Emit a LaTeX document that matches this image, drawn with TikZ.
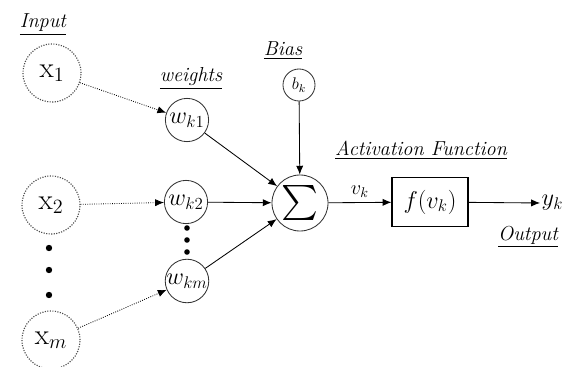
\documentclass[tikz,border=0pt]{standalone}
\usepackage{exscale}
\usetikzlibrary{arrows.meta}

\tikzset{
    inputnode/.style={circle, draw=black!70, densely dotted, thick, minimum size=1.45cm, inner sep=0pt, font=\huge},
    weightnode/.style={circle, draw=black!80, semithick, minimum size=1.08cm, inner sep=0pt, font=\LARGE},
    labeltext/.style={font=\Large\itshape},
    dotarrow/.style={densely dotted, semithick, -{Latex[length=2.2mm,width=1.8mm]}},
    solidarrow/.style={semithick, -{Latex[length=2.2mm,width=1.8mm]}},
    bigdot/.style={circle, fill=black, inner sep=0pt, minimum size=1.6mm}
}

\begin{document}
\begin{tikzpicture}[x=0.025cm, y=-0.025cm]
    \useasboundingbox (0,0) rectangle (565,367);

    % Define the input nodes
    \node[inputnode] (X1) at (52,73) {$\mathrm{x}_1$};
    \node[inputnode] (X2) at (51,205) {$\mathrm{x}_2$};
    \node[inputnode] (Xm) at (51,340) {$\mathrm{x}_m$};
    \node[bigdot] (D1) at (49,248) {};
    \node[bigdot] (D2) at (49,270) {};
    \node[bigdot] (D3) at (49,295) {};

    % Define the weight nodes
    \node[weightnode] (W1) at (187,120) {$w_{k1}$};
    \node[weightnode] (W2) at (186,202) {$w_{k2}$};
    \node[weightnode] (Wm) at (187,281) {$w_{km}$};
    \node[bigdot, minimum size=1.4mm] (E1) at (187,228) {};
    \node[bigdot, minimum size=1.4mm] (E2) at (187,240) {};
    \node[bigdot, minimum size=1.4mm] (E3) at (187,252) {};

    % Define the bias, sum and activation
    \node[circle, draw=black!80, semithick, minimum size=0.8cm, inner sep=0pt, font=\large] (B) at (299,85) {$b_k$};
    \node[circle, draw=black!80, semithick, minimum size=1.4cm, inner sep=0pt, font=\Huge] (S) at (300,203) {$\sum$};
    \node[draw, thick, minimum width=1.9cm, minimum height=1.22cm, font=\LARGE] (F) at (430,202) {$f(v_k)$};
    \coordinate (Y) at (540,203);
    \node[anchor=west, font=\LARGE, inner sep=1pt] (YK) at (Y) {$y_k$};

    % Draw the connections
    \draw[dotarrow] (X1) -- (W1);
    \draw[dotarrow] (X2) -- (W2);
    \draw[dotarrow] (Xm) -- (Wm);
    \draw[solidarrow] (W1) -- (S);
    \draw[solidarrow] (W2) -- (S);
    \draw[solidarrow] (Wm) -- (S);
    \draw[solidarrow] (B) -- (S);
    \draw[solidarrow] (S) -- (F) node[midway, above, font=\Large] {$v_k$};
    \draw[solidarrow] (F) -- (Y);

    % Place the labels
    \node[labeltext] (LIn) at (43,25) {\underline{Input}};
    \node[labeltext] (LW) at (191,79) {\underline{weights}};
    \node[labeltext] (LB) at (283,51) {\underline{Bias}};
    \node[labeltext] (LA) at (421,150) {\underline{Activation Function}};
    \node[labeltext] (LO) at (528,237) {\underline{Output}};

\end{tikzpicture}
\end{document}
